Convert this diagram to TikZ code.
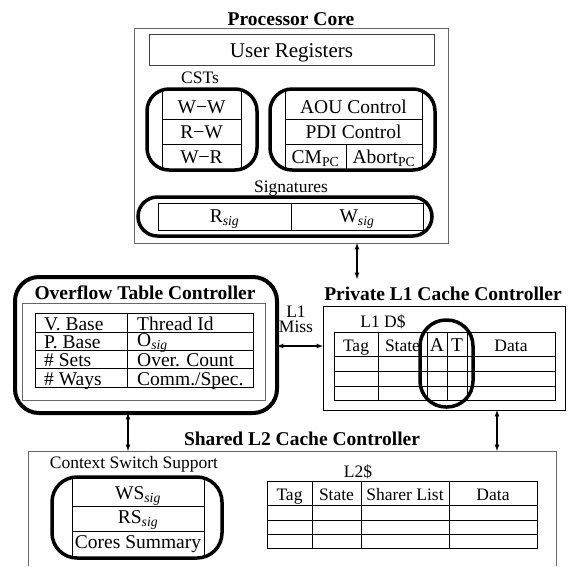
\documentclass[tikz,border=0pt]{standalone}
\usepackage{fontspec}
\setmainfont{Liberation Serif}
\usepackage{tikz}
\usetikzlibrary{arrows}
\usetikzlibrary{positioning}
\newcommand{\subsig}{\textsubscript{\itshape sig}}
\newcommand{\subpc}{\textsubscript{PC}}
\tikzset{
    title/.style={font=\fontsize{19.5}{20}\selectfont\bfseries, inner sep=0, anchor=base},
    big/.style={font=\fontsize{19.5}{20}\selectfont, inner sep=0, anchor=base},
    small/.style={font=\fontsize{17.5}{17}\selectfont, inner sep=0, anchor=base},
    unit/.style={draw=black!60, line width=0.8pt, anchor=north west, inner sep=0, outer sep=0},
    capsule/.style={draw=black, line width=3.5pt, anchor=north west, inner sep=0, outer sep=0},
    grid/.style={draw=black, line width=0.8pt},
    link/.style={<->, >=latex, line width=1.2pt},
}
\begin{document}
\begin{tikzpicture}[x=1pt, y=-1pt]
		\useasboundingbox (0,0) rectangle (572,566);
		% processor core
		\node[title] (coretitle) at (291,25) {Processor Core};
		\node[unit, minimum width=314, minimum height=215] (core) at (134,28) {};
		\node[unit, draw=black!75, minimum width=285, minimum height=31] (regs) at (149,34) {};
		\node[big, font=\fontsize{21}{21}\selectfont] (regstext) at (291.5,57) {User Registers};
		%
		\node[small] (cstlabel) at (200,83) {CSTs};
		\draw[grid] (162,91) -- (162,170) (241,91) -- (241,170);
		\draw[grid] (162,119) -- (241,119) (162,144) -- (241,144);
		\node[big] (ww) at (201.5,113) {W−W};
		\node[big] (rw) at (201.5,138) {R−W};
		\node[big] (wr) at (201.5,163) {W−R};
		\node[capsule, minimum width=110, minimum height=81, rounded corners=22] (cst) at (147,89) {};
		%
		\draw[grid] (285,91) -- (285,170) (422,91) -- (422,170);
		\draw[grid] (285,119) -- (422,119) (285,144) -- (422,144) (346,144) -- (346,170);
		\node[big] (aou) at (353.5,113) {AOU Control};
		\node[big] (pdi) at (353.5,138) {PDI Control};
		\node[big] (cmpc) at (315.5,163) {CM\subpc};
		\node[big] (abortpc) at (384,163) {Abort\subpc};
		\node[capsule, minimum width=165, minimum height=81, rounded corners=22] (ctrl) at (270,89) {};
		%
		\node[small] (siglabel) at (291,192) {Signatures};
		\draw[grid] (158,203) rectangle (423,230) (291,203) -- (291,230);
		\node[big] (rsig) at (224.5,222) {R\subsig};
		\node[big] (wsig) at (357,222) {W\subsig};
		\node[capsule, minimum width=294, minimum height=39, rounded corners=19.5] (sigs) at (138,197) {};
		% overflow table controller
		\node[capsule, line width=4pt, minimum width=262, minimum height=136, rounded corners=24] (ovf) at (15,277) {};
		\node[title] (ovftitle) at (145,299) {Overflow Table Controller};
		\node[unit, minimum width=243, minimum height=97] (ovfin) at (22,303) {};
		\draw[grid] (35,313) rectangle (253,387) (127,313) -- (127,387);
		\draw[grid] (35,332) -- (253,332) (35,350) -- (253,350) (35,368) -- (253,368);
		\node[big, anchor=base west] (vbase) at (44,330) {V. Base};
		\node[big, anchor=base west] (pbase) at (44,348) {P. Base};
		\node[big, anchor=base west] (nsets) at (44,366.5) {\# Sets};
		\node[big, anchor=base west] (nways) at (44,385) {\# Ways};
		\node[big, anchor=base west] (tid) at (137,330) {Thread Id};
		\node[big, anchor=base west] (osig) at (137,346.5) {O\subsig};
		\node[big, anchor=base west] (ocount) at (137,366.5) {Over. Count};
		\node[big, anchor=base west] (commspec) at (137,385) {Comm./Spec.};
		% private L1 cache controller
		\node[title] (l1title) at (443,300.5) {Private L1 Cache Controller};
		\node[unit, draw=black, minimum width=242, minimum height=104] (l1) at (323,306) {};
		\node[small] (l1dlabel) at (383,327) {L1 D\$};
		\draw[grid] (334,332) rectangle (555,400);
		\draw[grid] (334,356) -- (555,356) (334,371) -- (555,371) (334,386) -- (555,386);
		\draw[grid] (378,332) -- (378,400) (427,332) -- (427,400) (447,332) -- (447,400) (467,332) -- (467,400);
		\node[small] (l1tag) at (356,351) {Tag};
		\node[small] (l1state) at (402.5,351) {State};
		\node[big] (l1a) at (437,351) {A};
		\node[big] (l1t) at (457,351) {T};
		\node[small] (l1data) at (511,351) {Data};
		\node[capsule, minimum width=53, minimum height=87, rounded corners=26] (attr) at (420,320) {};
		%
		\node[small] (missl1) at (296,317) {L1};
		\node[small] (miss) at (296,332) {Miss};
		\coordinate (missport) at (277,346);
		\draw[link] (missport) -- (missport -| l1.west);
		\coordinate (coreport) at (357,279);
		\draw[link] (core.south -| coreport) -- (coreport);
		% shared L2 cache controller
		\node[title] (l2title) at (302,445) {Shared L2 Cache Controller};
		\draw[draw=black!60, line width=0.8pt] (28,566) -- (28,451) coordinate (l2nw) -- (556,451) -- (556,566);
		\coordinate (l2left) at (128,451);
		\coordinate (l2right) at (497,451);
		\draw[link] (ovf.south -| l2left) -- (l2left);
		\draw[link] (l1.south -| l2right) -- (l2right);
		%
		\node[small] (cslabel) at (134,468) {Context Switch Support};
		\draw[grid] (72,477) -- (72,558) (204,477) -- (204,558);
		\draw[grid] (72,506) -- (204,506) (72,531) -- (204,531);
		\node[big] (wssig) at (138,499) {WS\subsig};
		\node[big] (rssig) at (138,523) {RS\subsig};
		\node[big] (cores) at (138,548) {Cores Summary};
		\node[capsule, minimum width=170, minimum height=81, rounded corners=25] (cs) at (52,477) {};
		%
		\node[small] (l2label) at (358,477) {L2\$};
		\draw[grid] (267,481) rectangle (537,548);
		\draw[grid] (267,505) -- (537,505) (267,520) -- (537,520) (267,534) -- (537,534);
		\draw[grid] (312,481) -- (312,548) (361,481) -- (361,548) (449,481) -- (449,548);
		\node[small] (l2tag) at (289.5,500) {Tag};
		\node[small] (l2state) at (336.5,500) {State};
		\node[small] (l2sharer) at (405,500) {Sharer List};
		\node[small] (l2data) at (493,500) {Data};
	\end{tikzpicture}
\end{document}
